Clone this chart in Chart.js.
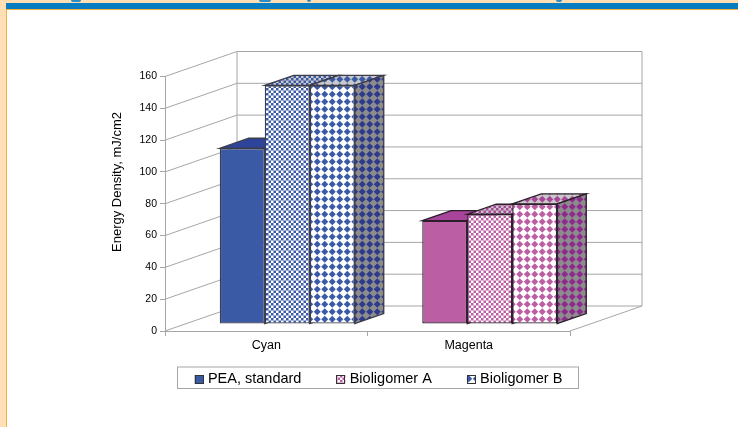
<!DOCTYPE html>
<html>
<head>
<meta charset="utf-8">
<title>Energy Density</title>
<script src="https://cdn.jsdelivr.net/npm/chart.js@4"></script>
<style>
html, body { margin: 0; padding: 0; background: #ffdfb3; overflow: hidden; }
#band { position: absolute; left: 6px; top: 3px; width: 732px; height: 6px; background: #0a7cc0; }
#panel { position: absolute; left: 6px; top: 9px; width: 732px; height: 418px; background: #fff;
         border-left: 1px solid #f6ad3c; border-top: 1px solid #f6ad3c; box-sizing: border-box; }
.bit { position: absolute; top: 0; height: 2px; background: #2a8cc8; border-radius: 0 0 3px 3px; }
#chart1 { position: absolute; left: 0; top: 0; }
</style>
</head>
<body>
<div id="band"></div>
<div id="panel"></div>
<!-- bottoms of the cut off page heading -->
<div class="bit" style="left:71px;width:10px"></div>
<div class="bit" style="left:259px;width:12px"></div>
<div class="bit" style="left:307px;width:4px"></div>
<div class="bit" style="left:556px;width:6px"></div>
<canvas id="chart1" width="738" height="427"></canvas>
<script>
const categories = ['Cyan', 'Magenta'];
const pea_standard = [110.5, 65];
const bioligomer_a = [150, 69];
const bioligomer_b = [150, 75.5];
const y_ticks_max = 160;
const y_ticks_step = 20;
const y_title = 'Energy Density, mJ/cm2';

const font_name = '"Liberation Sans", Arial, sans-serif';

// depth of the box behind the front axis, and of one bar
const wall = { dx: 72, dy: -25 };
const bar_depth = { dx: 29, dy: -10 };
const bar_shift = { dx: 21, dy: -7 };

// small checker dots
function smallDots(bg, fg) {
    const c = document.createElement('canvas');
    c.width = 5; c.height = 5;
    const g = c.getContext('2d');
    g.fillStyle = bg;
    g.fillRect(0, 0, 5, 5);
    g.fillStyle = fg;
    g.fillRect(0, 0, 2.5, 2.5);
    g.fillRect(2.5, 2.5, 2.5, 2.5);
    return c;
}

// big diamond dots
function bigDots(bg, fg) {
    const c = document.createElement('canvas');
    c.width = 15; c.height = 15;
    const g = c.getContext('2d');
    g.fillStyle = bg;
    g.fillRect(0, 0, 15, 15);
    g.fillStyle = fg;
    [[3.75, 3.75], [11.25, 3.75], [3.75, 11.25], [11.25, 11.25]].forEach(function(p) {
        const r = 3.5;
        g.beginPath();
        g.moveTo(p[0] - r, p[1]);
        g.lineTo(p[0], p[1] - r);
        g.lineTo(p[0] + r, p[1]);
        g.lineTo(p[0], p[1] + r);
        g.closePath();
        g.fill();
    });
    return c;
}

const ctx = document.getElementById('chart1').getContext('2d');
const pat = function(c) { return ctx.createPattern(c, 'repeat'); };

// front, top and side colours per category
const styles = {
    pea: {
        front: ['#3b5aa6', '#bc5ea3'],
        top: ['#2e449b', '#a8449a'],
        side: ['#2e449b', '#a8449a']
    },
    a: {
        front: [pat(smallDots('#ffffff', '#3b5aa6')), pat(smallDots('#ffffff', '#bc5ea3'))],
        top: [pat(smallDots('#c9c9c9', '#3b5aa6')), pat(smallDots('#c9c9c9', '#a8449a'))],
        side: [pat(smallDots('#8c8c8c', '#2e3a8c')), pat(smallDots('#8c8c8c', '#8e2a8e'))]
    },
    b: {
        front: [pat(bigDots('#ffffff', '#3b5aa6')), pat(bigDots('#ffffff', '#bc5ea3'))],
        top: [pat(bigDots('#c9c9c9', '#3b5aa6')), pat(bigDots('#c9c9c9', '#a8449a'))],
        side: [pat(bigDots('#8c8c8c', '#2e3a8c')), pat(bigDots('#8c8c8c', '#8e2a8e'))]
    }
};
const series_styles = [styles.pea, styles.a, styles.b];
const edge_colors = ['#3c3c4a', '#2a1f2a'];
const swatches = [styles.pea.front[0], styles.a.front[1], styles.b.front[0]];

const data = {
    labels: categories,
    datasets: [
        { label: 'PEA, standard', data: pea_standard, backgroundColor: styles.pea.front },
        { label: 'Bioligomer A', data: bioligomer_a, backgroundColor: styles.a.front },
        { label: 'Bioligomer B', data: bioligomer_b, backgroundColor: styles.b.front }
    ]
};
data.datasets.forEach(function(d) {
    d.borderColor = edge_colors;
    d.borderWidth = 1.3;
    d.borderSkipped = false;
    d.categoryPercentage = 2 / 3;
    d.barPercentage = 1;
    d.clip = false;
});

function poly(c, pts, fill, stroke) {
    c.beginPath();
    pts.forEach(function(p, i) {
        if (i == 0) c.moveTo(p[0], p[1]); else c.lineTo(p[0], p[1]);
    });
    c.closePath();
    if (fill) { c.fillStyle = fill; c.fill(); }
    if (stroke) { c.strokeStyle = stroke; c.stroke(); }
}

const box3d = {
    id: 'box3d',
    beforeDatasetsDraw(chart) {
        const c = chart.ctx;
        const a = chart.chartArea;
        const y = chart.scales.y;

        // walls and floor
        c.save();
        c.lineWidth = 1;
        c.strokeStyle = '#a6a6a6';
        y.ticks.forEach(function(t) {
            const py = y.getPixelForValue(t.value);
            c.beginPath();
            c.moveTo(a.left, py);
            c.lineTo(a.left + wall.dx, py + wall.dy);
            c.lineTo(a.right + wall.dx, py + wall.dy);
            c.stroke();
        });
        c.beginPath();
        c.moveTo(a.left + wall.dx, a.top + wall.dy);
        c.lineTo(a.left + wall.dx, a.bottom + wall.dy);
        c.moveTo(a.right + wall.dx, a.top + wall.dy);
        c.lineTo(a.right + wall.dx, a.bottom + wall.dy);
        c.lineTo(a.right, a.bottom);
        c.stroke();

        // bars drawn by chart.js are moved onto the middle of the floor
        c.translate(bar_shift.dx, bar_shift.dy);

        // tops and sides, left to right so the nearer ones overlap
        c.lineWidth = 1.3;
        categories.forEach(function(cat, ci) {
            chart.data.datasets.forEach(function(ds, di) {
                const bar = chart.getDatasetMeta(di).data[ci];
                const w = bar.width / 2;
                const l = bar.x - w, r = bar.x + w, t = bar.y, b = bar.base;
                const d = bar_depth;
                const st = series_styles[di];
                poly(c, [[l, t], [r, t], [r + d.dx, t + d.dy], [l + d.dx, t + d.dy]], st.top[ci], edge_colors[ci]);
                poly(c, [[r, t], [r + d.dx, t + d.dy], [r + d.dx, b + d.dy], [r, b]], st.side[ci], edge_colors[ci]);
            });
        });
    },
    afterDatasetsDraw(chart) {
        chart.ctx.restore();
    },
    afterDraw(chart) {
        const c = chart.ctx;
        const boxes = chart.legend.legendHitBoxes;
        const first = boxes[0];

        // frame round the legend
        c.save();
        c.strokeStyle = '#a6a6a6';
        c.lineWidth = 1;
        c.strokeRect(177.5, first.top - 5, 401, first.height + 7);

        // legend boxes are wider than the gap chart.js leaves for them
        boxes.forEach(function(h, i) {
            c.fillStyle = swatches[i];
            c.fillRect(h.left, h.top + 3, 9, 9);
            c.strokeStyle = '#333';
            c.strokeRect(Math.round(h.left) + 0.5, Math.round(h.top + 3) + 0.5, 8, 8);
        });

        // axis title sits higher than the middle of the axis
        c.translate(117, 182);
        c.rotate(-Math.PI / 2);
        c.fillStyle = '#000';
        c.font = '13px ' + font_name;
        c.textAlign = 'center';
        c.textBaseline = 'middle';
        c.fillText(y_title, 0, 0);
        c.restore();
    }
};

const options = {
    responsive: false,
    animation: false,
    layout: { padding: { left: 19, right: 0, top: 76.5, bottom: 30.5 } },
    scales: {
        x: {
            afterFit(s) { s.height = 6; },
            grid: { drawOnChartArea: false, tickLength: 5, color: '#a6a6a6' },
            border: { color: '#a6a6a6' },
            // mirror stops the labels being clipped to the short axis box,
            // the negative padding puts them back below the axis
            ticks: { color: '#000', mirror: true, padding: -22.5, font: { family: font_name, size: 12.5 } }
        },
        y: {
            min: 0,
            max: y_ticks_max,
            afterFit(s) { s.width = 146; },
            grid: { drawOnChartArea: false, tickLength: 5, color: '#a6a6a6' },
            border: { color: '#a6a6a6' },
            ticks: { stepSize: y_ticks_step, color: '#000', padding: 3, font: { family: font_name, size: 10.5 } }
        },
        // only keeps the plot area off the right side
        side: {
            position: 'right',
            afterFit(s) { s.width = 168; },
            grid: { display: false },
            border: { display: false },
            ticks: { display: false }
        }
    },
    plugins: {
        title: { display: false },
        tooltip: { enabled: false },
        legend: {
            position: 'bottom',
            labels: {
                color: '#000',
                boxWidth: 6,
                boxHeight: 9,
                padding: 35,
                font: { family: font_name, size: 14.5 },
                generateLabels(chart) {
                    return chart.data.datasets.map(function(d, i) {
                        return { text: d.label, fillStyle: 'transparent', strokeStyle: 'transparent', lineWidth: 0, datasetIndex: i };
                    });
                }
            }
        }
    }
};

const myChart = new Chart(ctx, {
    type: 'bar',
    data: data,
    options: options,
    plugins: [box3d]
});
</script>
</body>
</html>
